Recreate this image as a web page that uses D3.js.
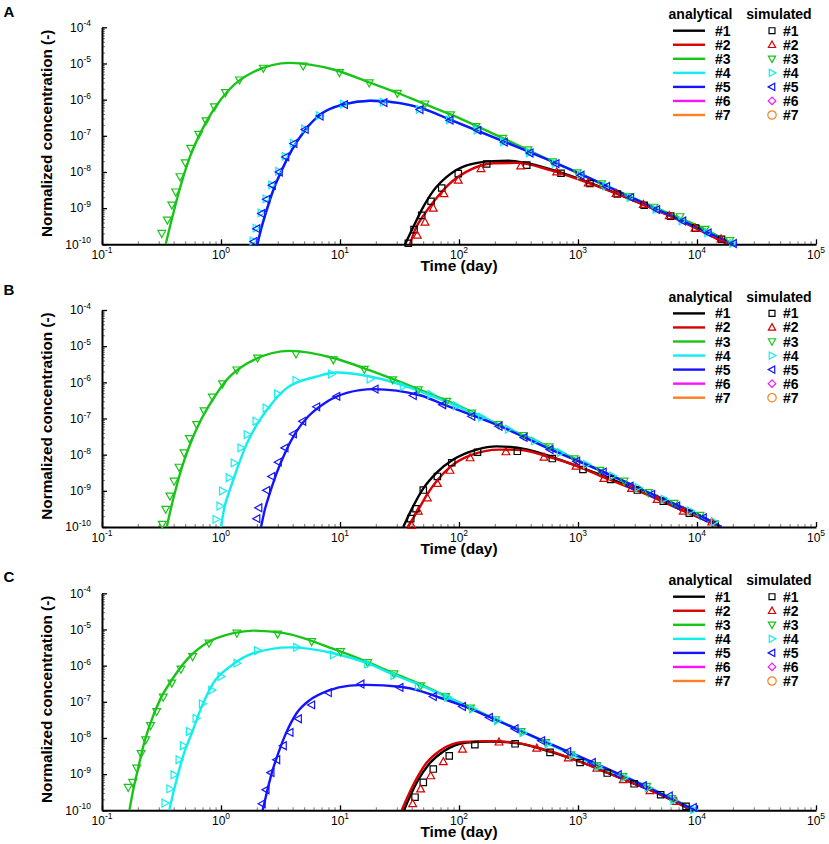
<!DOCTYPE html>
<html><head><meta charset="utf-8">
<script src="https://cdn.jsdelivr.net/npm/d3@7"></script>
<style>
body{margin:0;background:#fff}
svg{display:block}
text{font-family:"Liberation Sans",Arial,Helvetica,sans-serif;fill:#000}
</style>
</head><body>
<svg id="chart" width="829" height="844"></svg>
<script>
// ---------- data ----------
const panelNames = ["A", "B", "C"];
const seriesNames = ["#1", "#2", "#3", "#4", "#5", "#6", "#7"];
const seriesColors = ["#000000", "#d80000", "#19c419", "#12eeee", "#1414ff", "#ff10ff", "#ff8020"];
const xTickValues = [1e-1, 1e0, 1e1, 1e2, 1e3, 1e4, 1e5];
const xTickExponents = ["-1", "0", "1", "2", "3", "4", "5"];
const yTickValues = [1e-10, 1e-9, 1e-8, 1e-7, 1e-6, 1e-5, 1e-4];
const yTickExponents = ["-10", "-9", "-8", "-7", "-6", "-5", "-4"];
const xTitle = "Time (day)";
const yTitle = "Normalized concentration (-)";
const legendHeaders = ["analytical", "simulated"];

// analytical curves [time (day), normalized concentration]
const lineA1 = [[35.2,1e-10],[41.3,3.0e-10],[50.1,1.08e-9],[60.8,3.0e-9],[78.8,7.3e-9],[116,1.53e-8],[194,2.0e-8],[260,2.05e-8],[371,1.75e-8],[720,9.6e-9],[1260,5.0e-9],[2140,2.5e-9],[3600,1.22e-9],[6010,6.1e-10],[9750,2.9e-10],[18200,1e-10]];
const lineA2 = [[38.7,1e-10],[42.7,2.5e-10],[51.8,7.2e-10],[62.8,1.68e-9],[81.3,4.4e-9],[116,1.02e-8],[194,1.74e-8],[305,1.78e-8],[582,1.13e-8],[1220,5.0e-9],[2090,2.55e-9],[3540,1.26e-9],[5850,6.2e-10],[9620,2.85e-10],[18200,1e-10]];
const lineA3 = [[0.343,1e-10],[0.372,3.05e-10],[0.41,1.08e-9],[0.468,5.3e-9],[0.548,2.6e-8],[0.667,1.15e-7],[0.861,5.1e-7],[1.19,2.0e-6],[1.87,5.8e-6],[3.8,1.04e-5],[8.8,6.8e-6],[17.6,3.0e-6],[30.3,1.55e-6],[47,8.5e-7],[85,3.9e-7],[233,8.6e-8],[612,1.95e-8],[1580,4.7e-9],[4350,1.06e-9],[11700,2.6e-10],[20100,1e-10]];
const lineA4 = [[2.02,1e-10],[2.2,3.05e-10],[2.42,8.8e-10],[2.75,3.15e-9],[3.24,1.12e-8],[3.93,4.0e-8],[5.08,1.43e-7],[7.0,4.1e-7],[10.7,7.4e-7],[17.9,9.3e-7],[31.9,8.0e-7],[47,6.0e-7],[84,2.8e-7],[240,6.9e-8],[653,1.75e-8],[1740,4.1e-9],[4580,9.3e-10],[12400,2.1e-10],[20200,1e-10]];
const lineA5 = [[2.02,1e-10],[2.2,3.05e-10],[2.42,8.8e-10],[2.75,3.15e-9],[3.24,1.12e-8],[3.93,4.0e-8],[5.08,1.43e-7],[7.0,4.1e-7],[10.7,7.4e-7],[17.9,9.3e-7],[31.9,8.0e-7],[47,6.0e-7],[84,2.8e-7],[240,6.9e-8],[653,1.75e-8],[1740,4.1e-9],[4580,9.3e-10],[12400,2.1e-10],[20200,1e-10]];

const lineB1 = [[34,1e-10],[41.3,3.8e-10],[50,1.15e-9],[65,3.2e-9],[89.5,7.3e-9],[141,1.38e-8],[207,1.7e-8],[371,1.4e-8],[608,8.6e-9],[1100,4.2e-9],[1880,2.15e-9],[3150,1.08e-9],[5210,5.3e-10],[8610,2.45e-10],[16100,1e-10]];
const lineB2 = [[37,1e-10],[45.5,3.0e-10],[54,8e-10],[66,2.0e-9],[84,4.5e-9],[124,9.5e-9],[220,1.38e-8],[330,1.35e-8],[518,9.5e-9],[962,5.0e-9],[1650,2.35e-9],[2820,1.18e-9],[4630,5.9e-10],[7670,2.8e-10],[16100,1e-10]];
const lineB3 = [[0.35,1e-10],[0.378,3.1e-10],[0.416,1.09e-9],[0.468,4.3e-9],[0.542,1.71e-8],[0.658,7.5e-8],[0.836,3.0e-7],[1.12,1.18e-6],[1.64,3.25e-6],[3.8,7.4e-6],[8.8,4.7e-6],[16,2.45e-6],[27.7,1.25e-6],[47,6.2e-7],[78.8,3.1e-7],[214,6.9e-8],[570,1.66e-8],[1530,3.75e-9],[3900,9.0e-10],[10600,2.1e-10],[16100,1e-10]];
const lineB4 = [[1.0,1e-10],[1.06,3.1e-10],[1.19,1.09e-9],[1.36,3.9e-9],[1.59,1.54e-8],[1.93,5.5e-8],[2.5,1.95e-7],[3.56,6.9e-7],[6.37,1.45e-6],[9.4,1.87e-6],[17.9,1.45e-6],[34,8.3e-7],[47,5.6e-7],[100,2.05e-7],[300,4.1e-8],[1000,6.9e-9],[3000,1.3e-9],[8000,3.1e-10],[16100,1e-10]];
const lineB5 = [[2.17,1e-10],[2.34,3.1e-10],[2.58,8.9e-10],[2.94,3.15e-9],[3.45,1.12e-8],[4.19,3.8e-8],[5.42,1.15e-7],[7.48,2.7e-7],[11.4,5.1e-7],[19,6.5e-7],[47,4.4e-7],[73,2.5e-7],[217,6.3e-8],[582,1.42e-8],[1630,3.35e-9],[4160,8.2e-10],[11300,1.85e-10],[16100,1e-10]];

const lineC1 = [[34.5,1e-10],[38.7,2.4e-10],[45.5,7.0e-10],[55.2,1.8e-9],[73.8,4.2e-9],[116,7.5e-9],[182,8.0e-9],[305,7.2e-9],[582,4.2e-9],[1040,2.2e-9],[1760,1.1e-9],[2960,5.5e-10],[4950,2.7e-10],[9020,1e-10]];
const lineC2 = [[33,1e-10],[37.5,2.6e-10],[44,7.5e-10],[53,2.0e-9],[70,4.6e-9],[110,7.8e-9],[182,8.2e-9],[305,7.3e-9],[582,4.3e-9],[1040,2.2e-9],[1760,1.1e-9],[2960,5.5e-10],[4950,2.7e-10],[9020,1e-10]];
const lineC3 = [[0.17,1e-10],[0.183,3.7e-10],[0.2,1.32e-9],[0.222,5.8e-9],[0.256,2.6e-8],[0.307,1.13e-7],[0.386,4.0e-7],[0.515,1.44e-6],[0.759,4.2e-6],[1.27,7.9e-6],[1.87,9.3e-6],[3.4,7.9e-6],[8.8,2.9e-6],[17.1,1.25e-6],[28.4,6.1e-7],[47,3.1e-7],[77.3,1.45e-7],[203,3.3e-8],[535,7.6e-9],[1440,1.75e-9],[3780,4.6e-10],[9620,1e-10]];
const lineC4 = [[0.368,1e-10],[0.397,3.0e-10],[0.438,1.07e-9],[0.489,3.8e-9],[0.568,1.36e-8],[0.689,7.4e-8],[0.861,3.3e-7],[1.19,9.4e-7],[1.87,2.2e-6],[3.8,3.2e-6],[8.8,2.2e-6],[17.1,1.15e-6],[28.4,5.6e-7],[47,2.9e-7],[77,1.42e-7],[200,3.3e-8],[530,7.6e-9],[1400,1.8e-9],[3700,4.7e-10],[9620,1e-10]];
const lineC5 = [[2.24,1e-10],[2.42,3.0e-10],[2.67,1.07e-9],[3.03,3.8e-9],[3.52,1.36e-8],[4.33,4.9e-8],[5.6,1.13e-7],[7.98,2.05e-7],[12.1,2.8e-7],[16.8,2.94e-7],[31.9,2.6e-7],[47,2.0e-7],[60.8,1.5e-7],[107,7.8e-8],[180,3.8e-8],[296,1.85e-8],[495,8.7e-9],[1320,2.15e-9],[3540,4.9e-10],[9620,1e-10]];

// simulated points [time (day), normalized concentration]
const simA1 = [[37.5,1.07e-10],[41.9,2.55e-10],[48.6,6.3e-10],[58.2,1.55e-9],[71.6,3.6e-9],[98.6,9.0e-9],[171,1.66e-8],[371,1.55e-8],[720,9.2e-9],[1260,4.8e-9],[2140,2.45e-9],[3600,1.2e-9],[6010,6.0e-10],[9750,2.8e-10],[16100,1.38e-10]];
const simA2 = [[44.6,1.78e-10],[51.8,4.1e-10],[60.8,1.0e-9],[74.8,2.5e-9],[98.6,5.9e-9],[153,1.24e-8],[330,1.46e-8],[662,1.0e-8],[1220,5.0e-9],[2090,2.55e-9],[3540,1.26e-9],[5850,6.2e-10],[9620,2.8e-10],[15900,1.4e-10]];
const simA3 = [[0.318,2.0e-10],[0.354,4.7e-10],[0.386,1.22e-9],[0.416,2.8e-9],[0.452,7.4e-9],[0.501,1.8e-8],[0.556,4.5e-8],[0.65,1.1e-7],[0.748,2.6e-7],[0.88,6.3e-7],[1.09,1.56e-6],[1.43,3.5e-6],[2.27,7.4e-6],[4.9,8.5e-6],[9.9,5.6e-6],[17.6,2.9e-6],[30.3,1.5e-6],[51.8,7.6e-7],[85,3.8e-7],[139,1.8e-7],[233,8.5e-8],[380,4.1e-8],[612,1.9e-8],[986,9.5e-9],[1580,4.7e-9],[2650,2.1e-9],[4350,1.06e-9],[7200,5.8e-10],[11700,2.6e-10],[18900,1.26e-10]];
const simA4 = [[1.86,1.25e-10],[1.97,2.8e-10],[2.17,7.4e-10],[2.39,1.8e-9],[2.67,4.4e-9],[3.05,1.04e-8],[3.46,2.7e-8],[4.05,6.3e-8],[5.05,1.55e-7],[6.7,3.6e-7],[10.7,7.5e-7],[23.1,8.5e-7],[46.4,5.4e-7],[83,2.75e-7],[142,1.45e-7],[237,6.8e-8],[390,3.4e-8],[645,1.72e-8],[1050,8.2e-9],[1720,4.05e-9],[2740,1.98e-9],[4530,9.2e-10],[7500,4.45e-10],[12300,2.08e-10],[20000,1.06e-10]];
const simA5 = [[1.89,1.2e-10],[2.0,2.7e-10],[2.2,7.1e-10],[2.42,1.75e-9],[2.7,4.3e-9],[3.09,1.0e-8],[3.5,2.6e-8],[4.1,6.1e-8],[5.1,1.5e-7],[6.8,3.5e-7],[10.9,7.3e-7],[23.4,8.3e-7],[47,5.3e-7],[84,2.7e-7],[144,1.42e-7],[240,6.7e-8],[395,3.35e-8],[653,1.7e-8],[1060,8.1e-9],[1740,4.0e-9],[2770,1.96e-9],[4580,9.1e-10],[7590,4.4e-10],[12400,2.06e-10],[20200,1.05e-10]];

const simB1 = [[39.3,1.7e-10],[43.5,3.2e-10],[50.1,1.05e-9],[65.8,2.5e-9],[86.9,6.0e-9],[143,1.17e-8],[309,1.24e-8],[608,7.8e-9],[1100,3.9e-9],[1880,2.06e-9],[3150,1.05e-9],[5210,5.2e-10],[8610,2.4e-10],[14200,1.19e-10]];
const simB2 = [[40.1,1.1e-10],[45.5,2.75e-10],[54.2,6.4e-10],[65.8,1.6e-9],[84,3.7e-9],[124,8.2e-9],[248,1.2e-8],[518,8.5e-9],[962,4.8e-9],[1650,2.2e-9],[2820,1.16e-9],[4630,5.8e-10],[7670,2.75e-10],[13300,1.37e-10]];
const simB3 = [[0.321,1.19e-10],[0.343,3.1e-10],[0.372,7.2e-10],[0.403,1.85e-9],[0.444,4.5e-9],[0.489,1.12e-8],[0.542,2.8e-8],[0.625,6.8e-8],[0.72,1.64e-7],[0.846,3.9e-7],[1.03,9.1e-7],[1.36,2.2e-6],[2.03,4.7e-6],[4.27,6.1e-6],[8.8,4.2e-6],[16,2.3e-6],[27.7,1.18e-6],[45.5,6.2e-7],[78.8,3.0e-7],[128,1.42e-7],[214,6.8e-8],[347,3.4e-8],[570,1.64e-8],[931,7.7e-9],[1530,3.7e-9],[2440,1.85e-9],[3900,8.9e-10],[6410,4.5e-10],[10600,2.1e-10]];
const simB4 = [[0.908,1.63e-10],[0.98,3.8e-10],[1.03,9.9e-10],[1.17,2.3e-9],[1.29,5.9e-9],[1.47,1.54e-8],[1.66,3.6e-8],[1.97,8.4e-8],[2.39,1.95e-7],[2.99,4.8e-7],[4.27,1.13e-6],[8.5,1.69e-6],[17.9,1.23e-6],[34,7.7e-7],[58,4.6e-7],[95,2.25e-7],[155,1.09e-7],[260,5.1e-8],[430,2.4e-8],[710,1.15e-8],[1180,5.4e-9],[1950,2.6e-9],[3200,1.24e-9],[5300,5.9e-10],[8800,2.8e-10],[14000,1.4e-10]];
const simB5 = [[2.0,1.7e-10],[2.08,3.4e-10],[2.42,1.03e-9],[2.67,2.5e-9],[3.03,6.2e-9],[3.45,1.54e-8],[4.06,3.75e-8],[4.86,8.4e-8],[6.37,2.1e-7],[9.4,4.1e-7],[19.7,6.5e-7],[41.3,4.3e-7],[73,2.4e-7],[128,1.15e-7],[217,6.1e-8],[352,3.0e-8],[582,1.38e-8],[975,6.6e-9],[1630,3.3e-9],[2740,1.35e-9],[4160,8e-10],[6750,3.8e-10],[11300,1.8e-10]];

const simC1 = [[42.7,2.3e-10],[50.1,5.9e-10],[60.8,1.38e-9],[82.8,3.2e-9],[136,6.5e-9],[296,6.9e-9],[582,4.0e-9],[1040,2.1e-9],[1760,1.07e-9],[2960,5.4e-10],[4950,2.7e-10],[8090,1.28e-10]];
const simC2 = [[40.8,1.52e-10],[47.6,3.9e-10],[57.8,9.0e-10],[73.8,2.2e-9],[107,4.9e-9],[217,7.7e-9],[450,5.2e-9],[828,2.8e-9],[1440,1.47e-9],[2400,7.0e-10],[4030,3.5e-10],[6670,1.76e-10]];
const simC3 = [[0.166,4.3e-10],[0.181,5.9e-10],[0.196,1.47e-9],[0.213,3.7e-9],[0.233,8.9e-9],[0.256,2.2e-8],[0.288,5.4e-8],[0.327,1.35e-7],[0.386,3.3e-7],[0.461,8.0e-7],[0.578,1.78e-6],[0.793,4.2e-6],[1.36,7.9e-6],[2.99,7.5e-6],[5.78,4.6e-6],[10.1,2.44e-6],[17.1,1.21e-6],[28.4,5.9e-7],[47.6,2.76e-7],[77.3,1.4e-7],[125,6.7e-8],[203,3.2e-8],[332,1.51e-8],[535,7.5e-9],[869,3.4e-9],[1440,1.74e-9],[2380,8.6e-10],[3780,4.6e-10],[6120,2.1e-10]];
const simC4 = [[0.338,1.59e-10],[0.372,3.9e-10],[0.403,9.6e-10],[0.444,2.5e-9],[0.482,6.1e-9],[0.542,1.51e-8],[0.617,3.5e-8],[0.697,8.8e-8],[0.836,2.1e-7],[1.0,5.0e-7],[1.36,1.17e-6],[2.03,2.6e-6],[4.33,3.2e-6],[8.8,1.98e-6],[17.1,1.1e-6],[28.4,5.3e-7],[45.5,2.76e-7],[80,1.35e-7],[130,6.3e-8],[210,3.0e-8],[345,1.4e-8],[560,6.9e-9],[900,3.3e-9],[1480,1.6e-9],[2450,8.0e-10],[3900,4.2e-10],[6400,1.9e-10],[9400,1.05e-10]];
const simC5 = [[2.22,1.52e-10],[2.39,3.7e-10],[2.63,1.1e-9],[2.94,2.5e-9],[3.34,6.1e-9],[3.8,1.42e-8],[4.47,3.4e-8],[5.78,8.2e-8],[7.98,1.8e-7],[15,3.1e-7],[31.9,2.5e-7],[60.8,1.4e-7],[107,7.4e-8],[180,3.7e-8],[296,1.8e-8],[495,8.4e-9],[819,4.2e-9],[1320,2.1e-9],[2180,9.6e-10],[3540,4.8e-10],[5850,2.5e-10],[9310,1.2e-10]];

const panelLines = [[lineA1, lineA2, lineA3, lineA4, lineA5], [lineB1, lineB2, lineB3, lineB4, lineB5], [lineC1, lineC2, lineC3, lineC4, lineC5]];
const panelSims = [[simA1, simA2, simA3, simA4, simA5], [simB1, simB2, simB3, simB4, simB5], [simC1, simC2, simC3, simC4, simC5]];

// ---------- layout ----------
const plotLeft = 102, plotRight = 816, plotH = 217;
const panelTops = [27.3, 310, 593.3];
const letterBaselines = [16.7, 295, 582.3];

const svg = d3.select("#chart");
const x = d3.scaleLog().domain([xTickValues[0], xTickValues[xTickValues.length - 1]]).range([plotLeft, plotRight]);

function minorTicks(lo, hi) {
  const out = [];
  for (let e = Math.round(Math.log10(lo)); e < Math.round(Math.log10(hi)); e++) {
    for (let m = 2; m <= 9; m++) out.push(m * Math.pow(10, e));
  }
  return out;
}

function markerPath(k, r) {
  switch (k) {
    case 0: { const s = r * 0.78; return `M${-s},${-s}H${s}V${s}H${-s}Z`; }
    case 1: return `M0,${-r}L${r*0.95},${r*0.72}L${-r*0.95},${r*0.72}Z`;
    case 2: return `M0,${r}L${r*0.95},${-r*0.72}L${-r*0.95},${-r*0.72}Z`;
    case 3: return `M${r},0L${-r*0.72},${-r*0.95}L${-r*0.72},${r*0.95}Z`;
    case 4: return `M${-r},0L${r*0.72},${-r*0.95}L${r*0.72},${r*0.95}Z`;
    case 5: return `M0,${-r}L${r},0L0,${r}L${-r},0Z`;
    default: return `M${r},0A${r},${r} 0 1 1 ${-r},0A${r},${r} 0 1 1 ${r},0Z`;
  }
}

panelNames.forEach((name, pi) => {
  const top = panelTops[pi];
  const bottom = top + plotH;
  const y = d3.scaleLog().domain([yTickValues[0], yTickValues[yTickValues.length - 1]]).range([bottom, top]);
  const g = svg.append("g");

  const clipId = "clip" + name;
  svg.append("clipPath").attr("id", clipId).append("rect")
    .attr("x", plotLeft).attr("y", top - 2).attr("width", plotRight - plotLeft + 2).attr("height", plotH + 2);

  // minor ticks
  const xMinor = d3.axisBottom(x).tickValues(minorTicks(x.domain()[0], x.domain()[1]))
    .tickSizeInner(-3).tickSizeOuter(0).tickFormat(() => "");
  const yMinor = d3.axisLeft(y).tickValues(minorTicks(y.domain()[0], y.domain()[1]))
    .tickSizeInner(-3).tickSizeOuter(0).tickFormat(() => "");
  const gxm = g.append("g").attr("transform", `translate(0,${bottom})`).call(xMinor);
  const gym = g.append("g").attr("transform", `translate(${plotLeft},0)`).call(yMinor);
  [gxm, gym].forEach(a => { a.select(".domain").remove(); a.selectAll("line").attr("stroke", "#777").attr("stroke-width", 1); });

  // major ticks + axis lines
  const xMajor = d3.axisBottom(x).tickValues(xTickValues).tickSizeInner(-5).tickSizeOuter(0).tickFormat(() => "");
  const yMajor = d3.axisLeft(y).tickValues(yTickValues).tickSizeInner(-5).tickSizeOuter(0).tickFormat(() => "");
  const gx = g.append("g").attr("transform", `translate(0,${bottom})`).call(xMajor);
  const gy = g.append("g").attr("transform", `translate(${plotLeft},0)`).call(yMajor);
  [gx, gy].forEach(a => {
    a.select(".domain").attr("stroke", "#000").attr("stroke-width", 2);
    a.selectAll(".tick line").attr("stroke", "#000").attr("stroke-width", 1.3);
  });

  // x tick labels (10^n)
  xTickValues.forEach((v, i) => {
    const t = g.append("text").attr("x", x(v)).attr("y", bottom + 14.5)
      .attr("text-anchor", "middle").attr("font-size", 12);
    t.append("tspan").text("10");
    t.append("tspan").attr("dy", -5.5).attr("font-size", 8.5).text(xTickExponents[i]);
  });
  // y tick labels
  yTickValues.forEach((v, i) => {
    const t = g.append("text").attr("x", 91).attr("y", y(v) + 4.2)
      .attr("text-anchor", "end").attr("font-size", 12);
    t.append("tspan").text("10");
    t.append("tspan").attr("dy", -5.2).attr("font-size", 8.5).text(yTickExponents[i]);
  });

  // axis titles
  g.append("text").attr("x", (plotLeft + plotRight) / 2).attr("y", bottom + 27)
    .attr("text-anchor", "middle").attr("font-size", 15.5).attr("font-weight", "bold").text(xTitle);
  g.append("text").attr("transform", `translate(52,${top + 106}) rotate(-90)`)
    .attr("text-anchor", "middle").attr("font-size", 15.3).attr("font-weight", "bold").text(yTitle);

  // panel letter
  g.append("text").attr("x", 3.5).attr("y", letterBaselines[pi])
    .attr("font-size", 15).attr("font-weight", "bold").text(name);

  // analytical lines
  const line = d3.line().x(d => x(d[0])).y(d => y(d[1])).curve(d3.curveMonotoneX);
  const lg = g.append("g").attr("clip-path", `url(#${clipId})`);
  panelLines[pi].forEach((data, si) => {
    lg.append("path").datum(data).attr("d", line)
      .attr("fill", "none").attr("stroke", seriesColors[si]).attr("stroke-width", 2.4)
      .attr("stroke-linejoin", "round");
  });

  // simulated markers
  panelSims[pi].forEach((data, si) => {
    g.append("g").selectAll("path").data(data).join("path")
      .attr("transform", d => `translate(${x(d[0])},${y(d[1])})`)
      .attr("d", markerPath(si, 4.1))
      .attr("fill", "none").attr("stroke", seriesColors[si]).attr("stroke-width", 1.2);
  });

  // legend
  const lgx1 = 673, lgx2 = 705, lgLab1 = 715, mkX = 772, lgLab2 = 783;
  g.append("text").attr("x", 700.5).attr("y", top - 8).attr("text-anchor", "middle")
    .attr("font-size", 14).attr("font-weight", "bold").text(legendHeaders[0]);
  g.append("text").attr("x", 779).attr("y", top - 8).attr("text-anchor", "middle")
    .attr("font-size", 14).attr("font-weight", "bold").text(legendHeaders[1]);
  seriesNames.forEach((s, si) => {
    const cy = top + 3.4 + si * 14.05;
    g.append("line").attr("x1", lgx1).attr("x2", lgx2).attr("y1", cy).attr("y2", cy)
      .attr("stroke", seriesColors[si]).attr("stroke-width", 2.4);
    g.append("text").attr("x", lgLab1).attr("y", cy + 5).attr("font-size", 14).attr("font-weight", "bold").text(s);
    g.append("path").attr("transform", `translate(${mkX},${cy})`).attr("d", markerPath(si, si === 6 ? 4.2 : 3.8))
      .attr("fill", "none").attr("stroke", seriesColors[si]).attr("stroke-width", 1.2);
    g.append("text").attr("x", lgLab2).attr("y", cy + 5).attr("font-size", 14).attr("font-weight", "bold").text(s);
  });
});
</script>
</body></html>
